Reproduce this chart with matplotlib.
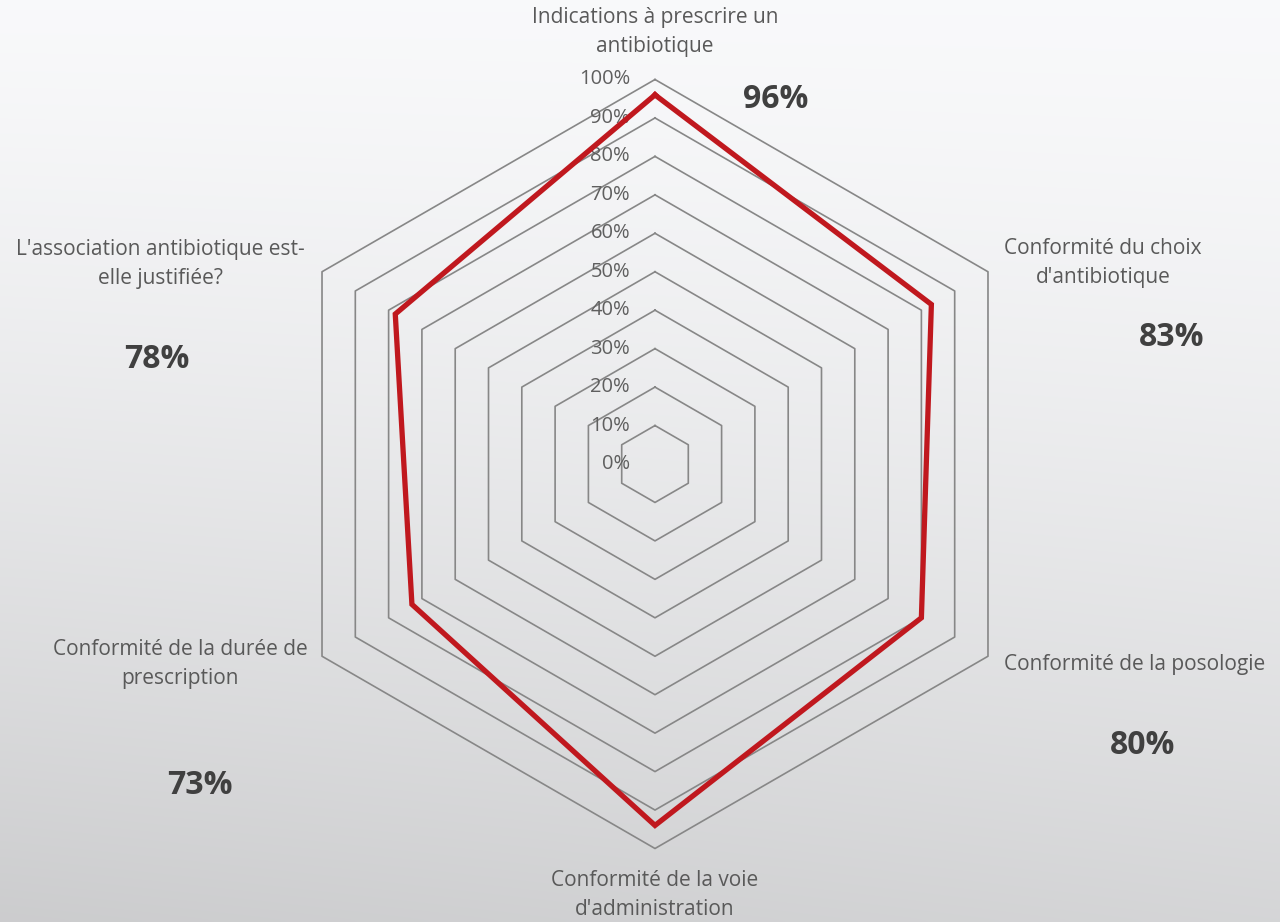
import numpy as np
import matplotlib
matplotlib.use("Agg")
import matplotlib.pyplot as plt

categories = ["Indications à prescrire un\nantibiotique",
              "Conformité du choix\nd'antibiotique",
              "Conformité de la posologie",
              "Conformité de la voie\nd'administration",
              "Conformité de la durée de\nprescription",
              "L'association antibiotique est-\nelle justifiée?"]
values = [96, 83, 80, 94, 73, 78]
value_labels = ["96%", "83%", "80%", None, "73%", "78%"]
ticks = [0, 10, 20, 30, 40, 50, 60, 70, 80, 90, 100]
tick_labels = [f"{t}%" for t in ticks]

W, H, DPI = 1280, 922, 100
fig = plt.figure(figsize=(W / DPI, H / DPI), dpi=DPI)
ax = fig.add_axes([0, 0, 1, 1])
ax.set_axis_off()

s = 3.845  # px per percent
cx, cy = 655, 464
ax.set_xlim(-cx / s, (W - cx) / s)
ax.set_ylim(-(H - cy) / s, cy / s)

# background gradient
yy, xx = np.mgrid[0:1:200j, 0:1:200j]
g = 0.975 - 0.14 * yy ** 1.4 - 0.035 * (1 - xx) * yy
bg = np.dstack([g, g + 0.002, g + 0.008])
ax.imshow(np.clip(bg, 0, 1), extent=[-cx / s, (W - cx) / s, -(H - cy) / s, cy / s],
          aspect="auto", zorder=0, interpolation="bicubic")

n = len(categories)
ang = np.pi / 2 - np.arange(n) * 2 * np.pi / n
closed = np.append(ang, ang[0])

# grid rings
for t in ticks[1:]:
    ax.plot(t * np.cos(closed), t * np.sin(closed), color="#878787", lw=1.2, zorder=2)

# tick labels
for t, lab in zip(ticks, tick_labels):
    ax.text(-6.5, t, lab, ha="right", va="center", fontsize=14.5,
            color="#5f5f5f", family="Open Sans", zorder=3)

# data polygon
v = np.append(np.array(values, dtype=float), values[0])
ax.plot(v * np.cos(closed), v * np.sin(closed),
        color="#c0181e", lw=3.8, zorder=4, solid_joinstyle="miter")

def px(x, y):
    return ((x - cx) / s, (cy - y) / s)

cat_pos = [(655, 32), (1103, 263), (1135, 664), (655, 895), (180, 664), (160, 264)]
for lab, (x, y) in zip(categories, cat_pos):
    ax.text(*px(x, y), lab, ha="center", va="center", fontsize=15, color="#595959",
            family="Open Sans", linespacing=1.45, zorder=5)

val_pos = [(776, 100), (1172, 337), (1143, 745), None, (200, 785), (157, 360)]
for lab, p in zip(value_labels, val_pos):
    if lab is None:
        continue
    ax.text(*px(*p), lab, ha="center", va="center", fontsize=23, fontweight="bold",
            color="#404040", family="Open Sans", zorder=5)

fig.savefig("out.png", dpi=DPI)
